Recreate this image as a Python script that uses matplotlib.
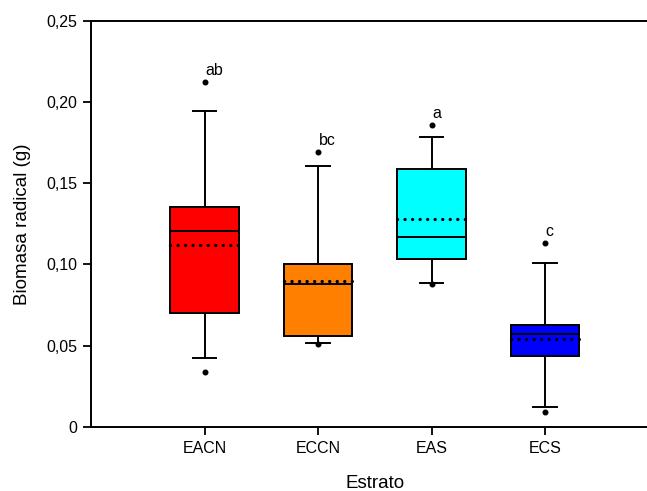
import matplotlib
matplotlib.use("Agg")
import matplotlib.pyplot as plt
from matplotlib.ticker import FuncFormatter

plt.rcParams['font.family'] = ['Liberation Sans', 'DejaVu Sans']

# Estadísticos de biomasa radical por estrato (g)
estratos = ["EACN", "ECCN", "EAS", "ECS"]
colores = ["#FF0000", "#FF8000", "#00FFFF", "#0000FF"]
letras = ["ab", "bc", "a", "c"]
q1 = [0.0702, 0.0558, 0.1036, 0.0435]
mediana = [0.1204, 0.0878, 0.1167, 0.0570]
q3 = [0.1356, 0.1003, 0.1588, 0.0628]
media = [0.1118, 0.0896, 0.1278, 0.0543]
bigote_inf = [0.0423, 0.0519, 0.0884, 0.0125]
bigote_sup = [0.1943, 0.1604, 0.1785, 0.1007]
atipico_inf = [0.0340, 0.0509, 0.0880, 0.0090]
atipico_sup = [0.2121, 0.1690, 0.1860, 0.1130]

stats = []
for i in range(len(estratos)):
    stats.append({
        'label': estratos[i],
        'q1': q1[i], 'med': mediana[i], 'q3': q3[i], 'mean': media[i],
        'whislo': bigote_inf[i], 'whishi': bigote_sup[i],
        'fliers': [atipico_inf[i], atipico_sup[i]],
    })

W, H = 647, 491
fig = plt.figure(figsize=(W / 100, H / 100), dpi=100)
ax = fig.add_axes([91 / W, 64 / H, 567.5 / W, 406.3 / H])

pos = [1, 2, 3, 4]
bp = ax.bxp(stats, positions=pos, widths=0.6, capwidths=0.21,
            patch_artist=True, showmeans=True, meanline=True,
            boxprops=dict(linewidth=1.4, edgecolor='black'),
            medianprops=dict(color='black', linewidth=1.4),
            whiskerprops=dict(color='black', linewidth=1.4),
            capprops=dict(color='black', linewidth=1.4),
            meanprops=dict(color='black', linestyle=(0, (0.01, 2.25)),
                           linewidth=2.4, dash_capstyle='round'),
            flierprops=dict(marker='o', markerfacecolor='black',
                            markeredgecolor='black', markersize=3.3))
for caja, c in zip(bp['boxes'], colores):
    caja.set_facecolor(c)

for x, y, l in zip(pos, atipico_sup, letras):
    ax.annotate(l, (x, y), xytext=(0.5, 5), textcoords='offset points',
                ha='left', va='baseline', fontsize=11.5)

ax.set_xlim(0, 5)
ax.set_ylim(0, 0.25)
ax.set_yticks([0, 0.05, 0.10, 0.15, 0.20, 0.25])
ax.yaxis.set_major_formatter(FuncFormatter(
    lambda v, p: "0" if v == 0 else f"{v:.2f}".replace(".", ",")))
ax.set_xticks(pos)
ax.set_xticklabels(estratos)
ax.tick_params(direction='out', length=6, width=1.3, labelsize=11.5, pad=4)

for s in ['top', 'left', 'bottom']:
    ax.spines[s].set_linewidth(1.4)
ax.spines['right'].set_visible(False)

ax.set_xlabel("Estrato", fontsize=13.5, labelpad=14)
ax.set_ylabel("Biomasa radical (g)", fontsize=13.5, labelpad=11)

fig.savefig("out.png", dpi=100)
